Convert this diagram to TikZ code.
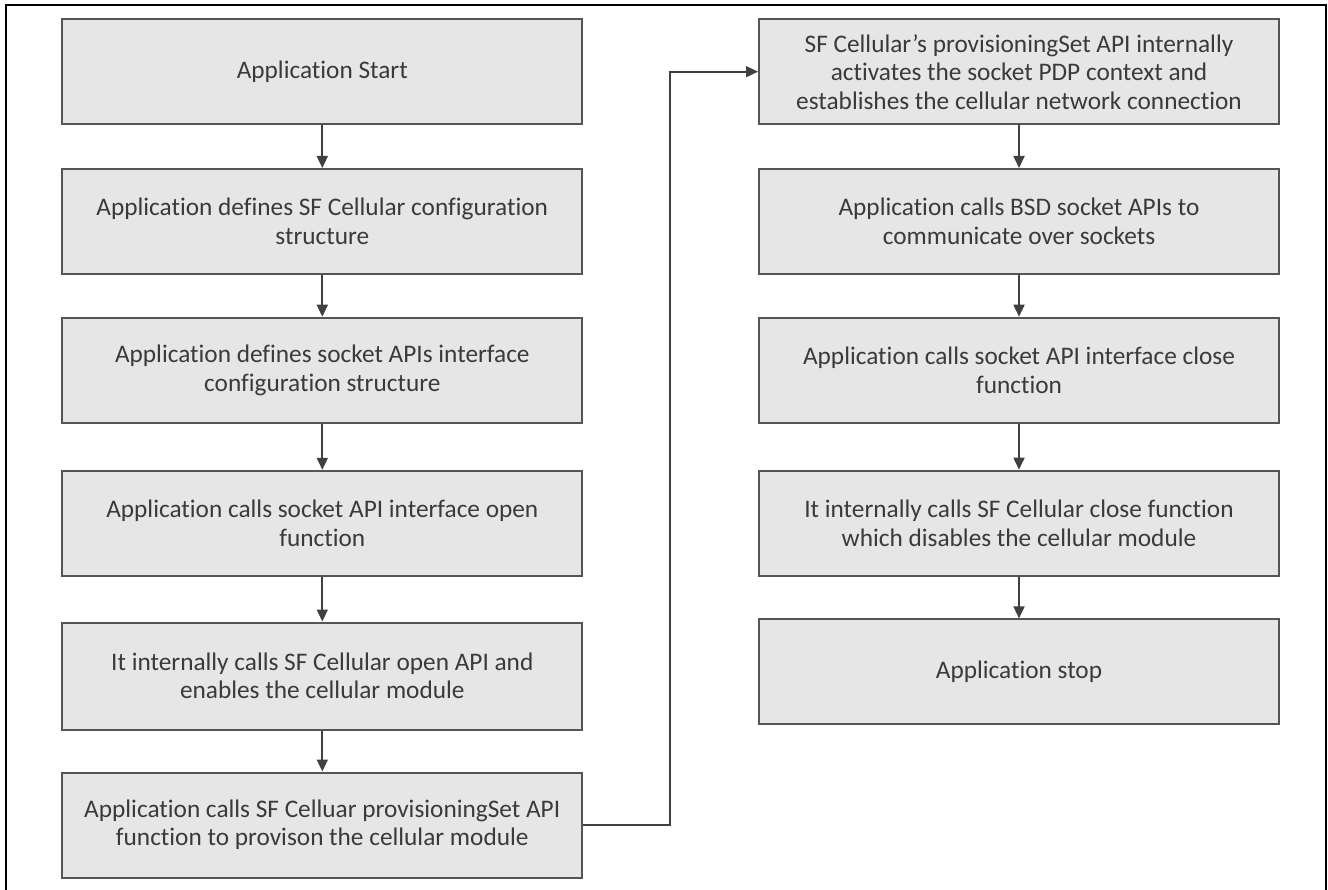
\documentclass[tikz,border=0pt]{standalone}
\usepackage{fontspec}
\setmainfont{Carlito}[Ligatures=NoCommon]
\usetikzlibrary{arrows.meta}
\definecolor{boxfill}{HTML}{E6E6E6}
\definecolor{boxline}{HTML}{555555}
\definecolor{txt}{HTML}{3A3A3A}
\definecolor{arr}{HTML}{404040}
\tikzset{
  stepbox/.style={draw=boxline, fill=boxfill, line width=2pt, minimum width=520pt, minimum height=105pt,
    inner sep=0pt, align=center, text=txt, font=\fontsize{25.3pt}{28.5pt}\selectfont},
  flow/.style={draw=arr, line width=1.8pt, -{Triangle[length=12pt,width=11pt]}}
}
\begin{document}
\begin{tikzpicture}[x=1pt,y=-1pt]
\useasboundingbox (0,0) rectangle (1328,890);
\draw[line width=2.5pt, black] (6,895) -- (6,5) -- (1326,5) -- (1326,895);
% left column
\node[stepbox] (l1) at (322.3,71.7) {Application Start};
\node[stepbox] (l2) at (322.3,221.5) {Application defines SF Cellular configuration\\structure};
\node[stepbox] (l3) at (322.3,370.2) {Application defines socket APIs interface\\configuration structure};
\node[stepbox] (l4) at (322.3,523.3) {Application calls socket API interface open\\function};
\node[stepbox, minimum height=107pt] (l5) at (322.3,676) {It internally calls SF Cellular open API and\\enables the cellular module};
\node[stepbox] (l6) at (322.3,825) {Application calls SF Celluar provisioningSet API\\function to provison the cellular module};
% right column
\node[stepbox] (r1) at (1019,71.7) {SF Cellular’s provisioningSet API internally\\activates the socket PDP context and\\establishes the cellular network connection};
\node[stepbox] (r2) at (1019,221.5) {Application calls BSD socket APIs to\\communicate over sockets};
\node[stepbox] (r3) at (1019,370.2) {Application calls socket API interface close\\function};
\node[stepbox] (r4) at (1019,523.2) {It internally calls SF Cellular close function\\which disables the cellular module};
\node[stepbox] (r5) at (1019,671.9) {Application stop};
% connectors
\draw[flow] (l1) -- (l2);
\draw[flow] (l2) -- (l3);
\draw[flow] (l3) -- (l4);
\draw[flow] (l4) -- (l5);
\draw[flow] (l5) -- (l6);
\coordinate (turn) at (670,825);
\draw[flow] (l6.east) -- (turn) |- (r1.west);
\draw[flow] (r1) -- (r2);
\draw[flow] (r2) -- (r3);
\draw[flow] (r3) -- (r4);
\draw[flow] (r4) -- (r5);
\end{tikzpicture}
\end{document}
